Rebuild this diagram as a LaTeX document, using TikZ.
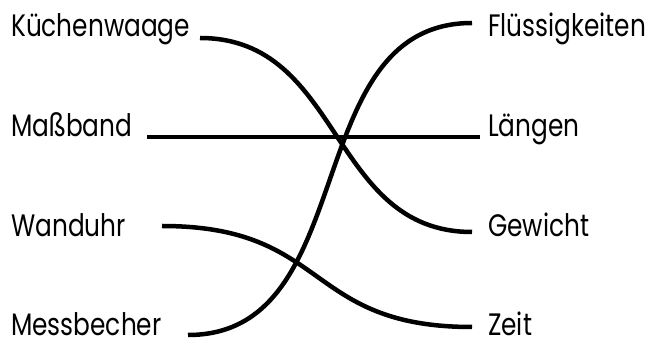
\documentclass[tikz,border=0pt]{standalone}
\usepackage{fontspec}
\setmainfont{Poppins}[FakeStretch=0.8]
\begin{document}
\begin{tikzpicture}[
    x=1pt,y=1pt,
    line join=round,
    begriff/.style={inner sep=0pt,anchor=base west,font=\fontsize{31}{36}\selectfont},
    verbindung/.style={line width=4.5pt}
]
\useasboundingbox (0,0) rectangle (653,345);

% -------------------------------------------------
% Messgeräte (links)
% -------------------------------------------------

\node[begriff] (waage)   at (11,308) {Küchenwaage};
\node[begriff] (band)    at (11,208) {Maßband};
\node[begriff] (uhr)     at (11,108) {Wanduhr};
\node[begriff] (becher)  at (11,9)   {Messbecher};

% -------------------------------------------------
% Größen (rechts)
% -------------------------------------------------

\node[begriff] (fluessig) at (488,308) {Flüssigkeiten};
\node[begriff] (laenge)   at (488,208) {Längen};
\node[begriff] (gewicht)  at (488,108) {Gewicht};
\node[begriff] (zeit)     at (488,9)   {Zeit};

% -------------------------------------------------
% Enden der Verbindungslinien
% -------------------------------------------------

\coordinate (waage-a)  at (200,307);   % hinter Küchenwaage
\coordinate (band-a)   at (147,208);   % hinter Maßband
\coordinate (uhr-a)    at (162,119);   % hinter Wanduhr
\coordinate (becher-a) at (188,10);    % hinter Messbecher

\coordinate (fluessig-e) at (472,322); % vor Flüssigkeiten
\coordinate (laenge-e)   at (480,208); % vor Längen
\coordinate (gewicht-e)  at (472,113); % vor Gewicht
\coordinate (zeit-e)     at (472,18);  % vor Zeit

% -------------------------------------------------
% Zuordnungen
% -------------------------------------------------

\draw[verbindung] (waage-a) .. controls +(143,0) and +(-143,0) .. (gewicht-e);
\draw[verbindung] (band-a) -- (laenge-e);
\draw[verbindung] (uhr-a) .. controls +(168,0) and +(-168,0) .. (zeit-e);
\draw[verbindung] (becher-a) .. controls +(175,0) and +(-175,0) .. (fluessig-e);
\end{tikzpicture}
\end{document}
